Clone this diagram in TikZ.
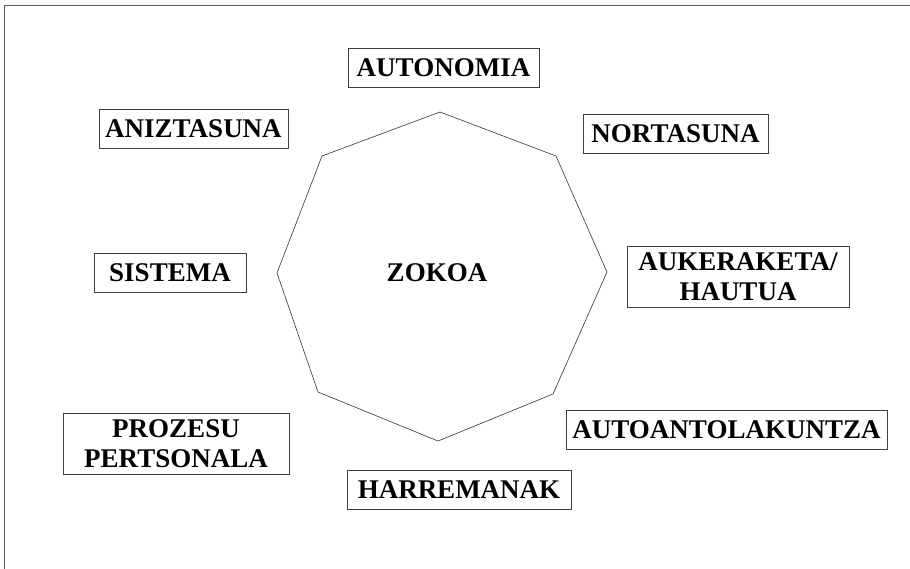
\documentclass[tikz,border=0pt]{standalone}
\usepackage{fontspec}
\setmainfont{Liberation Serif}

\tikzset{
  wordbox/.style={draw=black!75, line width=0.8pt, inner sep=0pt,
    align=center, minimum height=39pt,
    font=\fontsize{27}{30}\selectfont\bfseries},
  tallbox/.style={wordbox, minimum height=61pt},
}

\begin{document}
\begin{tikzpicture}[x=1pt,y=-1pt]
    \useasboundingbox (0,0) rectangle (910,569);

    % page frame
    \draw[black!65, line width=0.9pt] (4,569) -- (4,5) -- (910,5);

    % the corner itself
    \draw[black!80, line width=0.6pt] (440,112) -- (556,156) -- (607,272)
        -- (553,394) -- (438,441) -- (318,392) -- (277,273) -- (322,156) -- cycle;
    \node[font=\fontsize{27}{30}\selectfont\bfseries] (zokoa) at (437,273) {ZOKOA};

    % words round it
    \node[wordbox, minimum width=191pt] (autonomia) at (443.5,67.5) {AUTONOMIA};
    \node[wordbox, minimum width=185pt] (nortasuna) at (675.5,133.5) {NORTASUNA};
    \node[tallbox, minimum width=222pt] (aukeraketa) at (738,277) {AUKERAKETA/\\HAUTUA};
    \node[wordbox, minimum width=321pt] (autoantolakuntza) at (726.5,429.5) {AUTOANTOLAKUNTZA};
    \node[wordbox, minimum width=224pt] (harremanak) at (459,489.5) {HARREMANAK};
    \node[tallbox, minimum width=226pt] (prozesu) at (176,444) {PROZESU\\PERTSONALA};
    \node[wordbox, minimum width=152pt] (sistema) at (170,273) {SISTEMA};
    \node[wordbox, minimum width=189pt] (aniztasuna) at (193.5,128.5) {ANIZTASUNA};

\end{tikzpicture}
\end{document}
